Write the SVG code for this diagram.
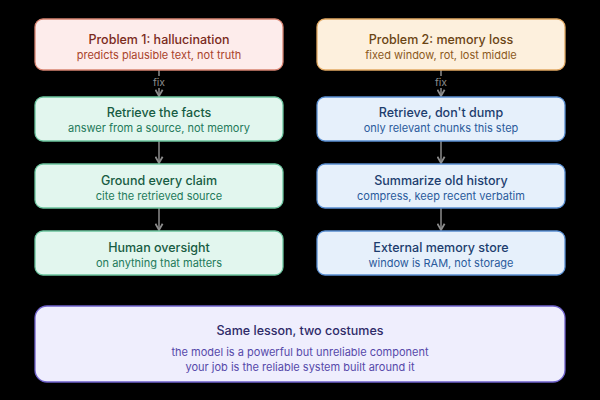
<svg xmlns="http://www.w3.org/2000/svg" width="600" height="400" viewBox="0 0 600 400">
<defs>
<style>
text{font-family:Inter,"Noto Sans","DejaVu Sans",sans-serif;text-anchor:middle}
.t{font-size:12.5px;font-weight:500}
.s{font-size:11px}
.red rect{fill:#fdeceb;stroke:#d88472;stroke-width:1.3}
.red .t{fill:#7a2a1c}.red .s{fill:#a9432c}
.org rect{fill:#fdf0dd;stroke:#e2a963;stroke-width:1.3}
.org .t{fill:#6a4414}.org .s{fill:#8c5a1d}
.grn rect{fill:#e2f6ee;stroke:#6cc59f;stroke-width:1.3}
.grn .t{fill:#175c43}.grn .s{fill:#237a5a}
.blu rect{fill:#e6f0fb;stroke:#5a8fd2;stroke-width:1.3}
.blu .t{fill:#1c3d6e}.blu .s{fill:#2a5b9c}
.pur rect{fill:#efeefd;stroke:#6f62cb;stroke-width:1.3}
.pur .t{fill:#2e2a68}.pur .s{fill:#5649aa}
.edge{stroke:#8c8c8c;stroke-width:1.5;fill:none}
.lbl{font-size:10.5px;fill:#8c8c8c}
</style>
<marker id="ah" viewBox="0 0 10 10" refX="8" refY="5" markerWidth="6" markerHeight="6" orient="auto-start-reverse">
<path d="M1,1 L8,5 L1,9" fill="none" stroke="#8c8c8c" stroke-width="2"/>
</marker>
</defs>
<rect width="600" height="400" fill="#000"/>
<g id="connectors">
<line class="edge" x1="159" y1="70" x2="159" y2="96" marker-end="url(#ah)"/>
<rect x="148" y="76" width="22" height="12" fill="#000"/>
<text class="lbl" x="159" y="86">fix</text>
<line class="edge" x1="159" y1="141" x2="159" y2="163" marker-end="url(#ah)"/>
<line class="edge" x1="159" y1="208" x2="159" y2="230" marker-end="url(#ah)"/>
<line class="edge" x1="441" y1="70" x2="441" y2="96" marker-end="url(#ah)"/>
<rect x="430" y="76" width="22" height="12" fill="#000"/>
<text class="lbl" x="441" y="86">fix</text>
<line class="edge" x1="441" y1="141" x2="441" y2="163" marker-end="url(#ah)"/>
<line class="edge" x1="441" y1="208" x2="441" y2="230" marker-end="url(#ah)"/>
</g>
<g id="p1" class="red">
<rect x="35" y="19" width="248" height="51" rx="8"/>
<text class="t" x="159" y="44">Problem 1: hallucination</text>
<text class="s" x="159" y="59">predicts plausible text, not truth</text>
</g>
<g id="p2" class="org">
<rect x="317" y="19" width="248" height="51" rx="8"/>
<text class="t" x="441" y="44">Problem 2: memory loss</text>
<text class="s" x="441" y="59">fixed window, rot, lost middle</text>
</g>
<g id="l1" class="grn">
<rect x="35" y="97" width="248" height="44" rx="8"/>
<text class="t" x="159" y="117">Retrieve the facts</text>
<text class="s" x="159" y="132">answer from a source, not memory</text>
</g>
<g id="l2" class="grn">
<rect x="35" y="164" width="248" height="44" rx="8"/>
<text class="t" x="159" y="185">Ground every claim</text>
<text class="s" x="159" y="200">cite the retrieved source</text>
</g>
<g id="l3" class="grn">
<rect x="35" y="231" width="248" height="44" rx="8"/>
<text class="t" x="159" y="252">Human oversight</text>
<text class="s" x="159" y="267">on anything that matters</text>
</g>
<g id="r1" class="blu">
<rect x="317" y="97" width="248" height="44" rx="8"/>
<text class="t" x="441" y="117">Retrieve, don't dump</text>
<text class="s" x="441" y="132">only relevant chunks this step</text>
</g>
<g id="r2" class="blu">
<rect x="317" y="164" width="248" height="44" rx="8"/>
<text class="t" x="441" y="185">Summarize old history</text>
<text class="s" x="441" y="200">compress, keep recent verbatim</text>
</g>
<g id="r3" class="blu">
<rect x="317" y="231" width="248" height="44" rx="8"/>
<text class="t" x="441" y="252">External memory store</text>
<text class="s" x="441" y="267">window is RAM, not storage</text>
</g>
<g id="lesson" class="pur">
<rect x="35" y="306" width="530" height="76" rx="12"/>
<text class="t" x="300" y="335">Same lesson, two costumes</text>
<text class="s" x="300" y="356">the model is a powerful but unreliable component</text>
<text class="s" x="300" y="371">your job is the reliable system built around it</text>
</g>
</svg>
